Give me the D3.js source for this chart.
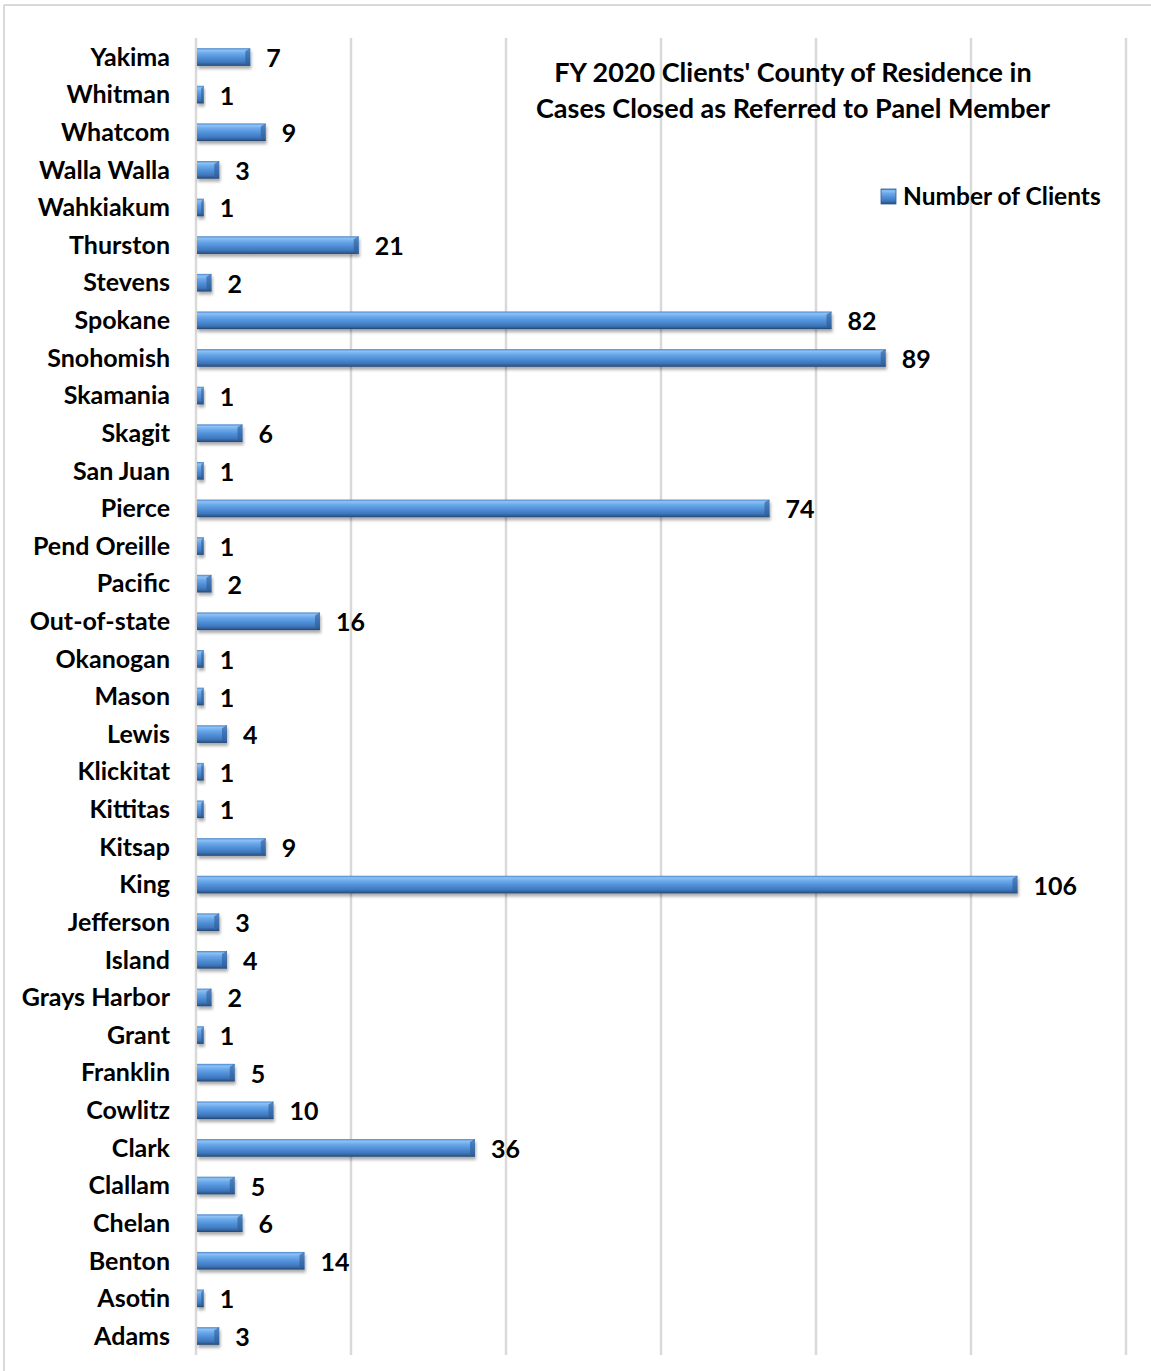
<!DOCTYPE html>
<html lang="en">
<head>
<meta charset="UTF-8">
<title>FY 2020 Clients' County of Residence</title>
<script src="https://cdn.jsdelivr.net/npm/d3@7"></script>
<style>
  body { margin: 0; background: #fff; }
  svg { display: block; font-family: Lato, "Open Sans", sans-serif; font-weight: bold; }
</style>
</head>
<body>
<svg id="chart" width="1151" height="1371"></svg>
<script>
const counties = ['Yakima', 'Whitman', 'Whatcom', 'Walla Walla', 'Wahkiakum', 'Thurston', 'Stevens',
  'Spokane', 'Snohomish', 'Skamania', 'Skagit', 'San Juan', 'Pierce', 'Pend Oreille', 'Pacific',
  'Out-of-state', 'Okanogan', 'Mason', 'Lewis', 'Klickitat', 'Kittitas', 'Kitsap', 'King',
  'Jefferson', 'Island', 'Grays Harbor', 'Grant', 'Franklin', 'Cowlitz', 'Clark', 'Clallam',
  'Chelan', 'Benton', 'Asotin', 'Adams']
const clients = [7, 1, 9, 3, 1, 21, 2, 82, 89, 1, 6, 1, 74, 1, 2, 16, 1, 1, 4, 1, 1, 9, 106,
  3, 4, 2, 1, 5, 10, 36, 5, 6, 14, 1, 3]
const gridTicks = [0, 20, 40, 60, 80, 100, 120]
const titleLines = ["FY 2020 Clients' County of Residence in", "Cases Closed as Referred to Panel Member"]
const seriesName = 'Number of Clients'

const svg = d3.select('#chart')
const data = counties.map((c, i) => ({ county: c, value: clients[i] }))

const x = d3.scaleLinear().domain([0, 120]).range([196, 1126])
const y = d3.scaleBand().domain(counties).range([38.2, 1354.8]).paddingInner(0.53).paddingOuter(0.265)

// defs: bar gradient + shadow
const defs = svg.append('defs')
const grad = defs.append('linearGradient').attr('id', 'barGrad')
  .attr('x1', 0).attr('y1', 0).attr('x2', 0).attr('y2', 1)
const stops = [[0, '#4c86cc'], [0.12, '#8cc2f5'], [0.3, '#6aa8ea'], [0.55, '#4f8fd8'],
  [0.8, '#3f76bb'], [0.92, '#2f5d95'], [1, '#22446e']]
stops.forEach(s => grad.append('stop').attr('offset', s[0]).attr('stop-color', s[1]))

const shadow = defs.append('filter').attr('id', 'shadow')
  .attr('x', '-10%').attr('y', '-30%').attr('width', '130%').attr('height', '190%')
shadow.append('feDropShadow').attr('dx', 1).attr('dy', 3).attr('stdDeviation', 1.8)
  .attr('flood-color', '#000').attr('flood-opacity', 0.32)

// chart frame
svg.append('line').attr('x1', 4).attr('x2', 1151).attr('y1', 5).attr('y2', 5)
  .attr('stroke', '#d9d9d9').attr('stroke-width', 2)
svg.append('line').attr('x1', 4).attr('x2', 4).attr('y1', 5).attr('y2', 1371)
  .attr('stroke', '#d9d9d9').attr('stroke-width', 2)

// gridlines
svg.append('g').selectAll('line')
  .data(gridTicks)
  .join('line')
  .attr('x1', d => x(d)).attr('x2', d => x(d))
  .attr('y1', 38).attr('y2', 1355)
  .attr('stroke', '#d9d9d9')
  .attr('stroke-width', 2.5)

// category labels
svg.append('g').selectAll('text')
  .data(data)
  .join('text')
  .attr('x', 170)
  .attr('y', d => y(d.county) + y.bandwidth() / 2)
  .attr('dy', '0.35em')
  .attr('text-anchor', 'end')
  .attr('font-size', 25)
  .attr('fill', '#000')
  .text(d => d.county)

// bars
const bars = svg.append('g').selectAll('g')
  .data(data)
  .join('g')
  .attr('filter', 'url(#shadow)')

bars.append('rect')
  .attr('x', x(0) + 1)
  .attr('y', d => y(d.county))
  .attr('width', d => x(d.value) - x(0) - 1)
  .attr('height', y.bandwidth())
  .attr('fill', 'url(#barGrad)')

// bevel at the bar end
bars.append('path')
  .attr('d', d => {
    const x1 = x(d.value), y0 = y(d.county), h = y.bandwidth()
    const b = Math.min(5, (x1 - x(0)) / 3)
    return `M${x1 - b},${y0 + 3}L${x1},${y0}L${x1},${y0 + h}L${x1 - b},${y0 + h - 3}Z`
  })
  .attr('fill', '#2d5a92')
  .attr('opacity', 0.6)

// value labels
svg.append('g').selectAll('text')
  .data(data)
  .join('text')
  .attr('x', d => x(d.value) + 16)
  .attr('y', d => y(d.county) + y.bandwidth() / 2)
  .attr('dy', '0.4em')
  .attr('font-size', 25)
  .attr('fill', '#000')
  .text(d => d.value)

// title
svg.append('text')
  .attr('x', 793).attr('y', 73)
  .attr('text-anchor', 'middle')
  .attr('font-size', 27)
  .selectAll('tspan')
  .data(titleLines)
  .join('tspan')
  .attr('x', 793)
  .attr('dy', (d, i) => i === 0 ? '0.35em' : 36)
  .text(d => d)

// legend
const legend = svg.append('g').attr('transform', 'translate(881,189)')
legend.append('rect').attr('width', 15).attr('height', 15).attr('fill', 'url(#barGrad)')
  .attr('stroke', '#2f5d95').attr('stroke-width', 0.8)
legend.append('text').attr('x', 22).attr('y', 7.5).attr('dy', '0.35em')
  .attr('font-size', 24.5).text(seriesName)
</script>
</body>
</html>
